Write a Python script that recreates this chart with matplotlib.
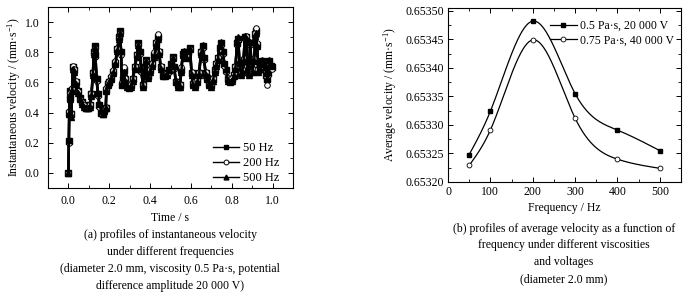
import numpy as np
import matplotlib
matplotlib.use('Agg')
import matplotlib.pyplot as plt
from matplotlib.ticker import MultipleLocator, FormatStrFormatter

plt.rcParams['font.family'] = ['Liberation Serif', 'DejaVu Serif']
plt.rcParams['mathtext.default'] = 'regular'
plt.rcParams['font.size'] = 8.5

# (a) instantaneous velocity
t = [0.000, 0.002, 0.004, 0.006, 0.010, 0.014, 0.018, 0.022, 0.026, 0.035,
     0.045, 0.055, 0.065, 0.075, 0.085, 0.095, 0.105, 0.113, 0.120, 0.125,
     0.128, 0.132, 0.138, 0.145, 0.152, 0.160, 0.168, 0.176, 0.183, 0.186,
     0.192, 0.200, 0.210, 0.220, 0.230, 0.240, 0.248, 0.253, 0.258, 0.262,
     0.268, 0.272, 0.278, 0.285, 0.295, 0.305, 0.315, 0.325, 0.335, 0.343,
     0.350, 0.357, 0.365, 0.372, 0.378, 0.385, 0.392, 0.400, 0.410, 0.420,
     0.430, 0.437, 0.444, 0.452, 0.462, 0.472, 0.482, 0.492, 0.502, 0.510,
     0.518, 0.526, 0.536, 0.546, 0.553, 0.560, 0.568, 0.578, 0.588, 0.596,
     0.603, 0.610, 0.620, 0.630, 0.640, 0.650, 0.657, 0.664, 0.672, 0.680,
     0.690, 0.700, 0.708, 0.716, 0.724, 0.732, 0.740, 0.748, 0.756, 0.764,
     0.772, 0.780, 0.790, 0.800, 0.810, 0.818, 0.826, 0.832, 0.838, 0.845,
     0.852, 0.858, 0.864, 0.870, 0.876, 0.884, 0.890, 0.896, 0.902, 0.910,
     0.916, 0.920, 0.924, 0.930, 0.938, 0.946, 0.954, 0.962, 0.968, 0.974,
     0.978, 0.984, 0.990, 0.996]

v_50 = [0.00, 0.21, 0.40, 0.50, 0.54, 0.39, 0.55, 0.70, 0.68, 0.60,
        0.54, 0.50, 0.47, 0.45, 0.43, 0.43, 0.45, 0.52, 0.66, 0.80,
        0.84, 0.78, 0.62, 0.52, 0.45, 0.40, 0.39, 0.42, 0.43, 0.55,
        0.59, 0.60, 0.63, 0.67, 0.73, 0.82, 0.90, 0.94, 0.80, 0.58,
        0.62, 0.68, 0.62, 0.58, 0.57, 0.58, 0.62, 0.70, 0.78, 0.86,
        0.80, 0.68, 0.58, 0.70, 0.75, 0.66, 0.64, 0.68, 0.72, 0.78,
        0.86, 0.90, 0.80, 0.70, 0.65, 0.65, 0.66, 0.68, 0.72, 0.77,
        0.70, 0.60, 0.58, 0.58, 0.68, 0.79, 0.80, 0.76, 0.80, 0.83,
        0.66, 0.59, 0.58, 0.61, 0.66, 0.80, 0.84, 0.76, 0.66, 0.63,
        0.59, 0.58, 0.62, 0.68, 0.72, 0.76, 0.83, 0.86, 0.80, 0.72,
        0.68, 0.62, 0.61, 0.62, 0.65, 0.70, 0.86, 0.89, 0.72, 0.66,
        0.68, 0.75, 0.90, 0.90, 0.70, 0.66, 0.86, 0.74, 0.68, 0.75,
        0.92, 0.94, 0.85, 0.68, 0.70, 0.74, 0.71, 0.69, 0.65, 0.62,
        0.66, 0.74, 0.71, 0.70]

v_200 = [0.00, 0.20, 0.41, 0.51, 0.53, 0.40, 0.56, 0.71, 0.69, 0.61,
         0.54, 0.49, 0.47, 0.45, 0.43, 0.44, 0.46, 0.53, 0.67, 0.81,
         0.83, 0.77, 0.61, 0.51, 0.44, 0.40, 0.40, 0.42, 0.44, 0.56,
         0.60, 0.61, 0.64, 0.68, 0.74, 0.83, 0.91, 0.93, 0.78, 0.60,
         0.64, 0.70, 0.63, 0.59, 0.58, 0.59, 0.63, 0.71, 0.79, 0.85,
         0.79, 0.67, 0.59, 0.69, 0.74, 0.67, 0.65, 0.69, 0.73, 0.80,
         0.87, 0.92, 0.81, 0.71, 0.66, 0.64, 0.65, 0.67, 0.71, 0.76,
         0.69, 0.61, 0.59, 0.59, 0.70, 0.78, 0.79, 0.77, 0.79, 0.82,
         0.67, 0.60, 0.59, 0.62, 0.67, 0.81, 0.83, 0.75, 0.67, 0.62,
         0.60, 0.59, 0.63, 0.69, 0.73, 0.77, 0.82, 0.85, 0.79, 0.71,
         0.67, 0.63, 0.62, 0.63, 0.66, 0.71, 0.85, 0.88, 0.71, 0.67,
         0.69, 0.76, 0.89, 0.91, 0.71, 0.67, 0.85, 0.73, 0.69, 0.76,
         0.93, 0.96, 0.86, 0.69, 0.71, 0.73, 0.70, 0.68, 0.64, 0.58,
         0.65, 0.73, 0.70, 0.69]

v_500 = [0.00, 0.22, 0.39, 0.49, 0.52, 0.37, 0.54, 0.69, 0.67, 0.59,
         0.53, 0.49, 0.46, 0.44, 0.43, 0.43, 0.44, 0.51, 0.65, 0.79,
         0.83, 0.79, 0.63, 0.53, 0.46, 0.41, 0.39, 0.41, 0.43, 0.54,
         0.58, 0.60, 0.62, 0.66, 0.72, 0.81, 0.89, 0.93, 0.81, 0.59,
         0.61, 0.67, 0.61, 0.57, 0.56, 0.57, 0.61, 0.69, 0.77, 0.85,
         0.81, 0.69, 0.57, 0.68, 0.74, 0.65, 0.63, 0.67, 0.71, 0.77,
         0.85, 0.89, 0.79, 0.69, 0.64, 0.64, 0.65, 0.68, 0.72, 0.76,
         0.71, 0.61, 0.57, 0.57, 0.67, 0.78, 0.81, 0.77, 0.81, 0.82,
         0.65, 0.58, 0.57, 0.60, 0.65, 0.79, 0.85, 0.77, 0.65, 0.62,
         0.58, 0.57, 0.61, 0.67, 0.71, 0.75, 0.84, 0.87, 0.81, 0.73,
         0.69, 0.61, 0.60, 0.61, 0.64, 0.69, 0.87, 0.90, 0.73, 0.65,
         0.67, 0.74, 0.91, 0.89, 0.69, 0.65, 0.87, 0.75, 0.67, 0.74,
         0.91, 0.93, 0.84, 0.67, 0.69, 0.75, 0.72, 0.70, 0.66, 0.63,
         0.67, 0.75, 0.72, 0.71]

# (b) average velocity vs frequency
freq = [50, 100, 200, 300, 400, 500]
avg_05 = [0.653248, 0.653324, 0.653482, 0.653355, 0.653291, 0.653255]
avg_075 = [0.653229, 0.653291, 0.653449, 0.653312, 0.653240, 0.653224]


def natural_spline(x, y, xs):
    x = np.asarray(x, float)
    y = np.asarray(y, float)
    n = len(x)
    h = np.diff(x)
    A = np.zeros((n, n))
    b = np.zeros(n)
    A[0, 0] = A[-1, -1] = 1
    for i in range(1, n - 1):
        A[i, i - 1] = h[i - 1]
        A[i, i] = 2 * (h[i - 1] + h[i])
        A[i, i + 1] = h[i]
        b[i] = 3 * ((y[i + 1] - y[i]) / h[i] - (y[i] - y[i - 1]) / h[i - 1])
    c = np.linalg.solve(A, b)
    idx = np.clip(np.searchsorted(x, xs) - 1, 0, n - 2)
    dx = xs - x[idx]
    bb = (y[idx + 1] - y[idx]) / h[idx] - h[idx] * (2 * c[idx] + c[idx + 1]) / 3
    d = (c[idx + 1] - c[idx]) / (3 * h[idx])
    return y[idx] + bb * dx + c[idx] * dx ** 2 + d * dx ** 3


W, H = 694, 293
fig = plt.figure(figsize=(W / 100, H / 100), dpi=100)


def box(l, t_, r, b_):
    return [l / W, 1 - b_ / H, (r - l) / W, (b_ - t_) / H]


def style(ax):
    ax.tick_params(which='both', direction='in', top=True, right=True)
    ax.tick_params(which='major', length=3.5, width=0.7)
    ax.tick_params(which='minor', length=2, width=0.6)
    for s in ax.spines.values():
        s.set_linewidth(0.8)


# left panel
ax1 = fig.add_axes(box(48, 7, 293, 188))
ax1.plot(t, v_50, '-s', color='k', lw=1.8, ms=4, label='50 Hz')
ax1.plot(t, v_200, '-o', color='k', mfc='white', mew=0.7, lw=1.8, ms=4, label='200 Hz')
ax1.plot(t, v_500, '-^', color='k', lw=1.8, ms=4, label='500 Hz')
ax1.set_xlim(-0.1, 1.1)
ax1.set_ylim(-0.1, 1.1)
ax1.xaxis.set_major_locator(MultipleLocator(0.2))
ax1.xaxis.set_minor_locator(MultipleLocator(0.1))
ax1.yaxis.set_major_locator(MultipleLocator(0.2))
ax1.yaxis.set_minor_locator(MultipleLocator(0.1))
ax1.xaxis.set_major_formatter(FormatStrFormatter('%.1f'))
ax1.yaxis.set_major_formatter(FormatStrFormatter('%.1f'))
style(ax1)
ax1.tick_params(axis='x', pad=5)
ax1.tick_params(axis='y', pad=6)
leg1 = ax1.legend(loc='lower right', bbox_to_anchor=(0.945, 0.02), frameon=False,
                  handlelength=2.1, handletextpad=0.3, labelspacing=0.25,
                  borderaxespad=0, borderpad=0, fontsize=9)
for ln in leg1.get_lines():
    ln.set_linewidth(1.0)
    ln.set_markersize(3.5)

# right panel
ax2 = fig.add_axes(box(448, 8, 681, 182))
xs = np.linspace(50, 500, 300)
ax2.plot(xs, natural_spline(freq, avg_05, xs), color='k', lw=0.9)
ax2.plot(xs, natural_spline(freq, avg_075, xs), color='k', lw=0.9)
ax2.plot(freq, avg_05, 's', color='k', ms=3.5)
ax2.plot(freq, avg_075, 'o', color='k', mfc='white', mew=0.6, ms=3.5)
h1, = ax2.plot([], [], '-s', color='k', lw=0.9, ms=3.5, label='0.5 Pa·s, 20 000 V')
h2, = ax2.plot([], [], '-o', color='k', mfc='white', mew=0.6, lw=0.9, ms=3.5,
               label='0.75 Pa·s, 40 000 V')
ax2.set_xlim(0, 550)
ax2.set_ylim(0.65320, 0.653505)
ax2.xaxis.set_major_locator(MultipleLocator(100))
ax2.xaxis.set_minor_locator(MultipleLocator(50))
ax2.yaxis.set_major_locator(MultipleLocator(0.00005))
ax2.yaxis.set_minor_locator(MultipleLocator(0.000025))
ax2.yaxis.set_major_formatter(FormatStrFormatter('%.5f'))
style(ax2)
ax2.tick_params(axis='x', pad=3)
ax2.tick_params(axis='y', pad=3)
ax2.legend(handles=[h1, h2], loc='upper right', bbox_to_anchor=(0.97, 0.93),
           frameon=False, handlelength=2.3, handletextpad=0.25, labelspacing=0.2,
           borderaxespad=0, borderpad=0, fontsize=8.5)

# axis labels and captions
fig.text(14 / W, 1 - 97 / H, 'Instantaneous velocity / (mm·s$^{-1}$)',
         rotation=90, ha='center', va='center', fontsize=8.5)
fig.text(390 / W, 1 - 95 / H, 'Average velocity / (mm·s$^{-1}$)',
         rotation=90, ha='center', va='center', fontsize=8.5)

left_lines = ['Time / s',
              '(a) profiles of instantaneous velocity',
              'under different frequencies',
              '(diameter 2.0 mm, viscosity 0.5 Pa·s, potential',
              'difference amplitude 20 000 V)']
left_y = [218, 235, 252, 269, 286]
for s, y in zip(left_lines, left_y):
    fig.text(170 / W, 1 - y / H, s, ha='center', va='center', fontsize=8.5)

right_lines = ['Frequency / Hz',
               '(b) profiles of average velocity as a function of',
               'frequency under different viscosities',
               'and voltages',
               '(diameter 2.0 mm)']
right_y = [208, 229, 245, 262, 279]
for s, y in zip(right_lines, right_y):
    fig.text(564 / W, 1 - y / H, s, ha='center', va='center', fontsize=8.5)

fig.savefig('out.png', dpi=100)
